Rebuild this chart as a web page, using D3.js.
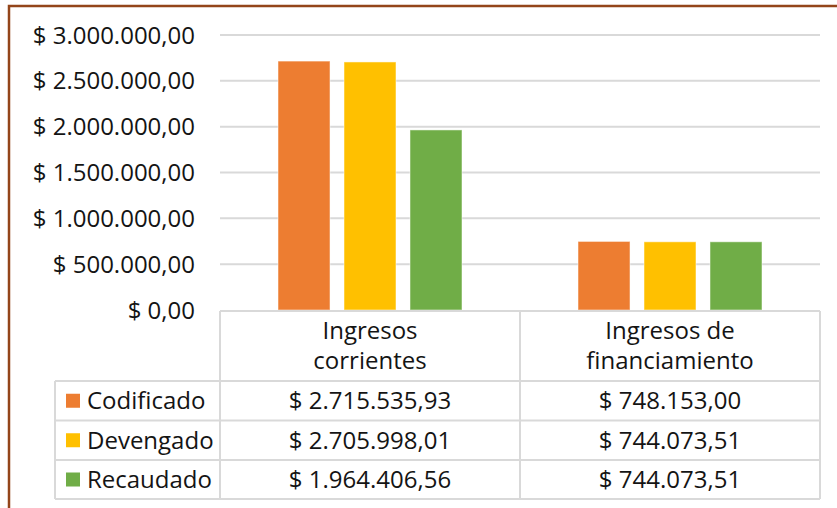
<!DOCTYPE html>
<html>
<head>
<meta charset="utf-8">
<script src="https://cdn.jsdelivr.net/npm/d3@7"></script>
<style>
  body { margin: 0; background: #fff; }
  svg text { font-family: "Open Sans", sans-serif; fill: #141414; }
</style>
</head>
<body>
<div id="chart"></div>
<script>
// Ingresos: codificado / devengado / recaudado

let categories = ["Ingresos corrientes", "Ingresos de financiamiento"];
let categoryLines = [["Ingresos", "corrientes"], ["Ingresos de", "financiamiento"]];
let seriesNames = ["Codificado", "Devengado", "Recaudado"];
let codificado = [2715535.93, 748153.00];
let devengado = [2705998.01, 744073.51];
let recaudado = [1964406.56, 744073.51];
let yTicks = [0, 500000, 1000000, 1500000, 2000000, 2500000, 3000000];
let colors = ["#ED7D31", "#FFC000", "#70AD47"];

let seriesValues = [codificado, devengado, recaudado];

// Spanish number format: $ 3.000.000,00
let locale = d3.formatLocale({
	decimal: ",",
	thousands: ".",
	grouping: [3],
	currency: ["$ ", ""]
});
let money = locale.format("$,.2f");

let width = 837, height = 508;
let plotLeft = 220, plotRight = 820, plotTop = 35, plotBottom = 310;
let legendLeft = 55;
let fontSize = "24px";

let svg = d3.select("#chart").append("svg")
	.attr("width", width)
	.attr("height", height);

// Outer frame (only top and left visible)
svg.append("rect")
	.attr("x", 9).attr("y", 6)
	.attr("width", width + 20).attr("height", height + 20)
	.attr("fill", "none")
	.attr("stroke", "#93451a")
	.attr("stroke-width", 2.5);

let y = d3.scaleLinear().domain([0, 3000000]).range([plotBottom, plotTop]);
let x0 = d3.scaleBand().domain(categories).range([plotLeft, plotRight]).padding(0);
let x1 = d3.scaleBand().domain(seriesNames).range([0, x0.bandwidth()])
	.paddingInner(0.212).paddingOuter(0.879);

// Gridlines
svg.append("g")
	.selectAll("line")
	.data(yTicks.filter(d => d > 0))
	.join("line")
	.attr("x1", plotLeft).attr("x2", plotRight)
	.attr("y1", d => y(d)).attr("y2", d => y(d))
	.attr("stroke", "#d9d9d9")
	.attr("stroke-width", 2);

// Y tick labels
svg.append("g")
	.selectAll("text")
	.data(yTicks)
	.join("text")
	.attr("x", 195)
	.attr("y", d => y(d))
	.attr("dy", "0.36em")
	.attr("text-anchor", "end")
	.style("font-size", fontSize)
	.text(d => money(d));

// Bars
let groups = svg.append("g")
	.selectAll("g")
	.data(categories)
	.join("g")
	.attr("transform", d => "translate(" + x0(d) + ",0)");

groups.selectAll("rect")
	.data((c, i) => seriesNames.map((s, j) => ({ series: s, value: seriesValues[j][i], color: colors[j] })))
	.join("rect")
	.attr("x", d => x1(d.series))
	.attr("y", d => y(d.value))
	.attr("width", x1.bandwidth())
	.attr("height", d => plotBottom - y(d.value))
	.attr("fill", d => d.color)
	.attr("stroke", "#fff")
	.attr("stroke-opacity", 0.5)
	.attr("stroke-width", 1);

// Data table
let headerTop = 311, headerBottom = 381;
let rowEdges = [381, 420.5, 460, 499];
let grid = svg.append("g").attr("stroke", "#d9d9d9").attr("stroke-width", 2);

// horizontal lines
grid.append("line").attr("x1", plotLeft).attr("x2", plotRight).attr("y1", headerTop).attr("y2", headerTop);
rowEdges.forEach(r => {
	grid.append("line").attr("x1", legendLeft).attr("x2", plotRight).attr("y1", r).attr("y2", r);
});
// vertical lines
grid.append("line").attr("x1", legendLeft).attr("x2", legendLeft).attr("y1", headerBottom).attr("y2", rowEdges[3]);
[plotLeft, x0(categories[1]), plotRight].forEach(xv => {
	grid.append("line").attr("x1", xv).attr("x2", xv).attr("y1", headerTop).attr("y2", rowEdges[3]);
});

// header labels
let header = svg.append("g")
	.selectAll("text")
	.data(categories)
	.join("text")
	.attr("text-anchor", "middle")
	.attr("x", d => x0(d) + x0.bandwidth() / 2)
	.style("font-size", fontSize);
header.selectAll("tspan")
	.data((d, i) => categoryLines[i])
	.join("tspan")
	.attr("x", function () { return d3.select(this.parentNode).attr("x"); })
	.attr("y", (d, i) => 330 + i * 30)
	.attr("dy", "0.36em")
	.text(d => d);

// rows: legend key + values
seriesNames.forEach((s, j) => {
	let cy = (rowEdges[j] + rowEdges[j + 1]) / 2;
	svg.append("rect")
		.attr("x", 66).attr("y", cy - 7)
		.attr("width", 14).attr("height", 14)
		.attr("fill", colors[j]);
	svg.append("text")
		.attr("x", 87).attr("y", cy).attr("dy", "0.36em")
		.style("font-size", fontSize)
		.text(s);
	categories.forEach((c, i) => {
		svg.append("text")
			.attr("x", x0(c) + x0.bandwidth() / 2)
			.attr("y", cy).attr("dy", "0.36em")
			.attr("text-anchor", "middle")
			.style("font-size", fontSize)
			.text(money(seriesValues[j][i]));
	});
});
</script>
</body>
</html>
